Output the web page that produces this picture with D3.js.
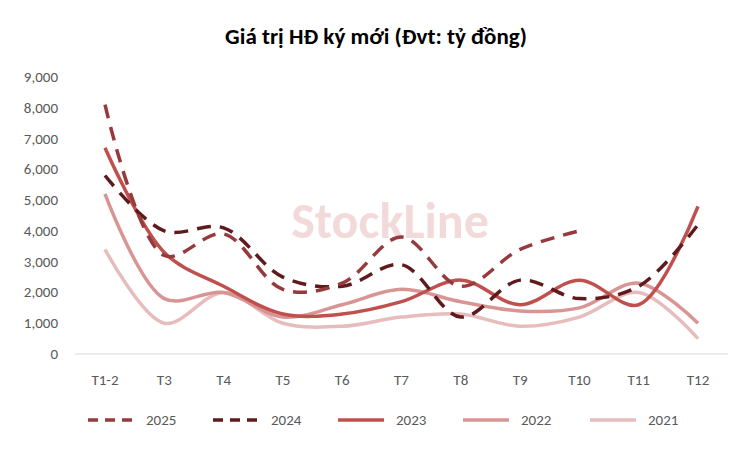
<!DOCTYPE html>
<html><head><meta charset="utf-8">
<script src="https://cdn.jsdelivr.net/npm/d3@7"></script>
<style>body{margin:0;background:#fff}text{font-family:Calibri,Carlito,"Open Sans",sans-serif}</style>
</head><body><svg id="c" width="752" height="452"></svg>
<script>
const categories=["T1-2","T3","T4","T5","T6","T7","T8","T9","T10","T11","T12"];
const yTicks=[0,1000,2000,3000,4000,5000,6000,7000,8000,9000];
const s2025=[8100,3200,3900,2100,2300,3800,2200,3400,4000,null,null];
const s2024=[5800,4000,4100,2500,2200,2900,1200,2400,1800,2200,4200];
const s2023=[6700,3300,2200,1300,1300,1700,2400,1600,2400,1600,4800];
const s2022=[5200,1800,2000,1200,1600,2100,1700,1400,1500,2300,1000];
const s2021=[3400,1000,2000,1000,900,1200,1300,900,1200,2000,500];
const series=[
 {name:"2025",data:s2025,color:"#963A3C",dash:"14,9"},
 {name:"2024",data:s2024,color:"#5E1A1C",dash:"14,9"},
 {name:"2023",data:s2023,color:"#C0504D",dash:null},
 {name:"2022",data:s2022,color:"#D99594",dash:null},
 {name:"2021",data:s2021,color:"#E6BDBC",dash:null}];
const svg=d3.select("#c");
const x=d3.scalePoint().domain(categories).range([105,698]);
const y=d3.scaleLinear().domain([0,9000]).range([354,77]);
svg.append("text").attr("x",376).attr("y",44).attr("text-anchor","middle").attr("font-size",23).attr("font-weight","bold").text("Giá trị HĐ ký mới (Đvt: tỷ đồng)");
svg.append("text").attr("x",390).attr("y",238).attr("text-anchor","middle").attr("font-size",50).attr("font-weight","bold").attr("fill","#f3dada").text("StockLine");
svg.append("line").attr("x1",75).attr("x2",728).attr("y1",y(0)).attr("y2",y(0)).attr("stroke","#d9d9d9");
svg.selectAll(".yt").data(yTicks).join("text").attr("x",58).attr("y",d=>y(d)+5).attr("text-anchor","end").attr("font-size",15).attr("fill","#595959").text(d3.format(","));
svg.selectAll(".xt").data(categories).join("text").attr("x",d=>x(d)).attr("y",385).attr("text-anchor","middle").attr("font-size",15).attr("fill","#595959").text(d=>d);
const line=d3.line().defined(d=>d[1]!=null).x(d=>x(d[0])).y(d=>y(d[1])).curve(d3.curveCatmullRom.alpha(0.5));
[...series].reverse().forEach(s=>{
 svg.append("path").attr("d",line(categories.map((c,i)=>[c,s.data[i]]))).attr("fill","none").attr("stroke",s.color).attr("stroke-width",3.5).attr("stroke-dasharray",s.dash);
});
const lx=[88,213,338,463,590];
series.forEach((s,i)=>{
 svg.append("line").attr("x1",lx[i]).attr("x2",lx[i]+46).attr("y1",420).attr("y2",420).attr("stroke",s.color).attr("stroke-width",3.5).attr("stroke-dasharray",s.dash?"10,7":null);
 svg.append("text").attr("x",lx[i]+58).attr("y",425).attr("font-size",15).attr("fill","#595959").text(s.name);
});
</script></body></html>
